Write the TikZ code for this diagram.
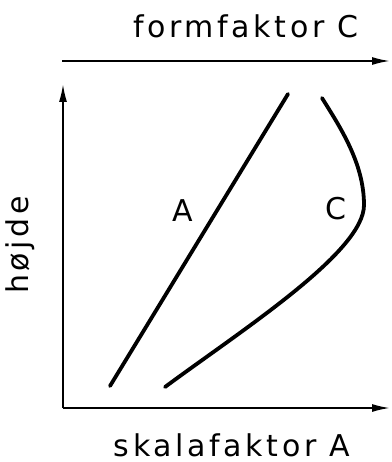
\documentclass[tikz,border=0pt]{standalone}
\usepackage{fontspec}
\setmainfont[LetterSpace=12]{DejaVu Sans}
\usetikzlibrary{arrows.meta}
\begin{document}
\begin{tikzpicture}[x=1pt,y=-1pt,
  axis/.style={line width=1.8pt,-{Latex[length=18pt,width=8pt]}},
  curve/.style={line width=3.8pt,line cap=round},
  lbl/.style={font=\fontsize{30}{36}\selectfont,inner sep=0pt}]
\useasboundingbox (0,0) rectangle (391,462);
% axes
\coordinate (o) at (63,408);
\coordinate (ytip) at (63,84);
\coordinate (xtip) at (390,408);
\coordinate (ttail) at (62,61);
\coordinate (ttip) at (390,61);
\draw[axis] (ttail) -- (ttip);
\draw[axis] (o) -- (ytip);
\draw[axis] (o) -- (xtip);
% curve A
\coordinate (a1) at (110,386);
\coordinate (a2) at (288,94);
\draw[curve] (a1) -- (a2);
% curve C
\coordinate (c1) at (322,98);
\coordinate (cm) at (364,205);
\coordinate (c2) at (165,387);
\draw[curve] (c1) .. controls (340,127) and (364,163) .. (cm)
                  .. controls (364,252) and (242,330) .. (c2);
% labels
\node[lbl,anchor=base] (tf) at (246,38) {formfaktor C};
\node[lbl,anchor=base] (ts) at (232,456) {skalafaktor A};
\node[lbl,rotate=90] (th) at (20,245) {højde};
\node[lbl] (la) at (183,211) {A};
\node[lbl] (lc) at (336,209) {C};
\end{tikzpicture}
\end{document}
